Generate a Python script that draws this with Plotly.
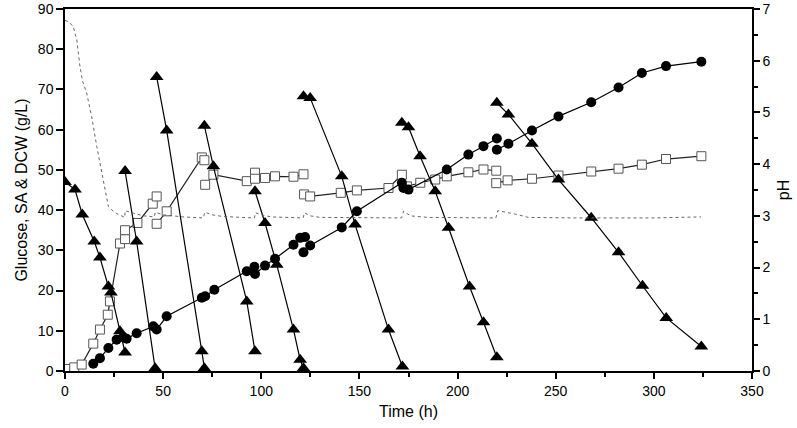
import plotly.graph_objects as go

# Glucose (triangles), fed-batch segments separated by None
glc_t = [0, 5.1, 8.8, 14.9, 17.8, 22.1, 23.4, 28, 30.6, None,
         30.6, 36.5, 45.9, None,
         46.7, 51.8, 69.7, 71, None,
         71, 75.6, 92.6, 96.8, None,
         96.8, 101.9, 107.9, 116.4, 119.8, 121.5, None,
         121.5, 124.9, 141, 147.8, 164.8, 171.9, None,
         171.6, 175, 180.9, 188.6, 195.4, 206.1, 213.2, 220, None,
         220, 225.9, 237.9, 251.4, 268.1, 282, 294.2, 306.3, 324.2]
glc_v = [47, 45.1, 38.9, 32.2, 28.2, 21, 19.5, 9.9, 4.6, None,
         49.7, 32.2, 0.7, None,
         73.1, 59.8, 4.9, 0.7, None,
         61, 50.9, 17.3, 4.9, None,
         44.7, 36.8, 26.4, 10.3, 2.8, 0.7, None,
         68.3, 67.9, 48.4, 36.4, 10.3, 1.1, None,
         61.7, 60.6, 53.4, 44.7, 35.6, 21, 12.1, 3.4, None,
         66.7, 63.8, 56.5, 47.6, 38.1, 29.5, 21.2, 13.2, 6.1]

# SA (filled circles)
sa_t = [14.4, 17.8, 22.1, 26.3, 29.7, 31.4, 36.5, 45, 46.7, 51.8, 69.7, 71.4, 76.1,
        92.6, 96.5, None, 96.8, 101.9, 107, 116.4, 119.8, 122.3, None,
        121.5, 124.9, 141, 148.7, 171.6, None, 172.4, 175, 194.5, 205.5, 213.2, 220, None,
        220, 225.9, 237.9, 251.4, 268.1, 282, 293.9, 306.2, 324.2]
sa_v = [1.8, 3.2, 5.7, 7.8, 8.4, 8.0, 9.4, 11.1, 10.3, 13.6, 18.2, 18.6, 20.2,
        24.8, 25.9, None, 24.1, 26.2, 27.9, 31.4, 33.1, 33.3, None,
        29.5, 31.2, 35.7, 39.7, 46.8, None, 45.5, 45.1, 50.1, 53.8, 55.9, 57.8, None,
        55.0, 56.5, 59.8, 63.3, 66.8, 70.5, 74.1, 75.8, 76.9]

# DCW (open squares)
dcw_t = [0.3, 4.7, 8.5, 14.4, 17.8, 21.8, 22.9, 28, 30.6, 30.6, 36.9, 44.7, 46.7, None,
         46.7, 51.8, 69.7, 71, None, 71.4, 75.6, 92.6, 96.8, None,
         96.8, 101.9, 107, 116.4, 121.5, None,
         121.8, 124.9, 140.5, 148.7, 164.8, 171.6, None,
         174.2, 181, 188.6, 194.5, 205.5, 213.2, 219.7, None,
         219.7, 225.5, 237.9, 251.4, 268.1, 282, 293.9, 306.2, 324.2]
dcw_v = [0.5, 0.9, 1.6, 6.8, 10.3, 14, 17.3, 31.7, 32.8, 35, 36.8, 41.6, 43.4, None,
         36.6, 39.7, 53.1, 52.4, None, 46.3, 48.8, 47.2, 49.3, None,
         47.8, 48, 48.4, 48.3, 48.9, None,
         43.9, 43.4, 44.3, 44.9, 45.5, 48.8, None,
         45.9, 46.8, 47.6, 48.4, 49.4, 50.1, 49.8, None,
         46.7, 47.4, 47.8, 48.6, 49.6, 50.3, 51.3, 52.7, 53.4]

# pH (dotted line, right axis)
ph_t = [0, 2, 4.2, 6, 7.6, 9, 11, 13.6, 16.2, 18.7, 20.4, 22.1, 24.6, 27, 30.5,
        30.6, 35, 40, 45.5, 46, 50, 55, 60, 70.5, 71.2, 75, 80, 90, 96.5, 97, 100,
        105, 115, 121.3, 122, 125, 130, 150, 171.5, 172.5, 176, 185, 200, 219.5,
        220.5, 225, 230, 236, 260, 300, 324]
ph_v = [6.78, 6.75, 6.66, 6.41, 5.89, 5.6, 5.38, 4.92, 4.34, 3.83, 3.5, 3.18, 3.09, 3.03, 2.97,
        3.1, 3.05, 3.0, 2.98, 3.07, 3.02, 3.0, 2.98, 2.96, 3.07, 3.02, 2.99, 2.97, 2.96, 3.06, 3.02,
        2.98, 2.96, 2.96, 3.06, 3.0, 2.97, 2.96, 2.96, 3.09, 3.0, 2.97, 2.96, 2.96,
        3.1, 3.07, 3.03, 2.97, 2.96, 2.96, 2.98]

x_ticks = [0, 50, 100, 150, 200, 250, 300, 350]
y_ticks = [0, 10, 20, 30, 40, 50, 60, 70, 80, 90]
ph_ticks = [0, 1, 2, 3, 4, 5, 6, 7]

FONT = "Arial, 'Liberation Sans', sans-serif"

fig = go.Figure()
fig.add_trace(go.Scatter(x=ph_t, y=ph_v, yaxis="y2", mode="lines",
                         line=dict(color="#666666", width=1, dash="dot"),
                         connectgaps=False, showlegend=False))
fig.add_trace(go.Scatter(x=dcw_t, y=dcw_v, mode="lines+markers",
                         line=dict(color="#222222", width=1.2),
                         marker=dict(symbol="square", size=9, color="white",
                                     line=dict(color="#555555", width=1)),
                         connectgaps=False, showlegend=False))
fig.add_trace(go.Scatter(x=sa_t, y=sa_v, mode="lines+markers",
                         line=dict(color="black", width=1.2),
                         marker=dict(symbol="circle", size=10, color="black"),
                         connectgaps=False, showlegend=False))
fig.add_trace(go.Scatter(x=glc_t, y=glc_v, mode="lines+markers",
                         line=dict(color="black", width=1.2),
                         marker=dict(symbol="triangle-up", size=12, color="black"),
                         connectgaps=False, showlegend=False))

axis_common = dict(showgrid=False, zeroline=False, showline=True, linecolor="black",
                   linewidth=1.5, ticks="outside", tickcolor="black", tickwidth=1.5,
                   automargin=False,
                   tickfont=dict(family=FONT, size=14, color="black"))

fig.update_layout(
    width=797, height=428,
    margin=dict(l=65, r=45, t=9, b=57),
    paper_bgcolor="white", plot_bgcolor="white",
    xaxis=dict(range=[0, 350], tickvals=x_ticks, ticklen=6, mirror=True,
               minor=dict(ticks="outside", dtick=25, ticklen=4, tickcolor="black", tickwidth=1.5),
               title=dict(text="Time (h)", font=dict(family=FONT, size=16, color="black"),
                          standoff=8),
               **axis_common),
    yaxis=dict(range=[0, 90], tickvals=y_ticks, ticklen=7,
               title=dict(text="Glucose, SA & DCW (g/L)",
                          font=dict(family=FONT, size=16, color="black"), standoff=6),
               **axis_common),
    yaxis2=dict(range=[0, 7], tickvals=ph_ticks, ticklen=6, overlaying="y", side="right",
                minor=dict(ticks="outside", dtick=0.5, ticklen=4, tickcolor="black", tickwidth=1.5),
                title=dict(text="pH", font=dict(family=FONT, size=16, color="black"), standoff=8),
                **axis_common),
)

fig.write_html("out.html", config={"displayModeBar": False},
               post_script="document.body.style.margin='0px';")
